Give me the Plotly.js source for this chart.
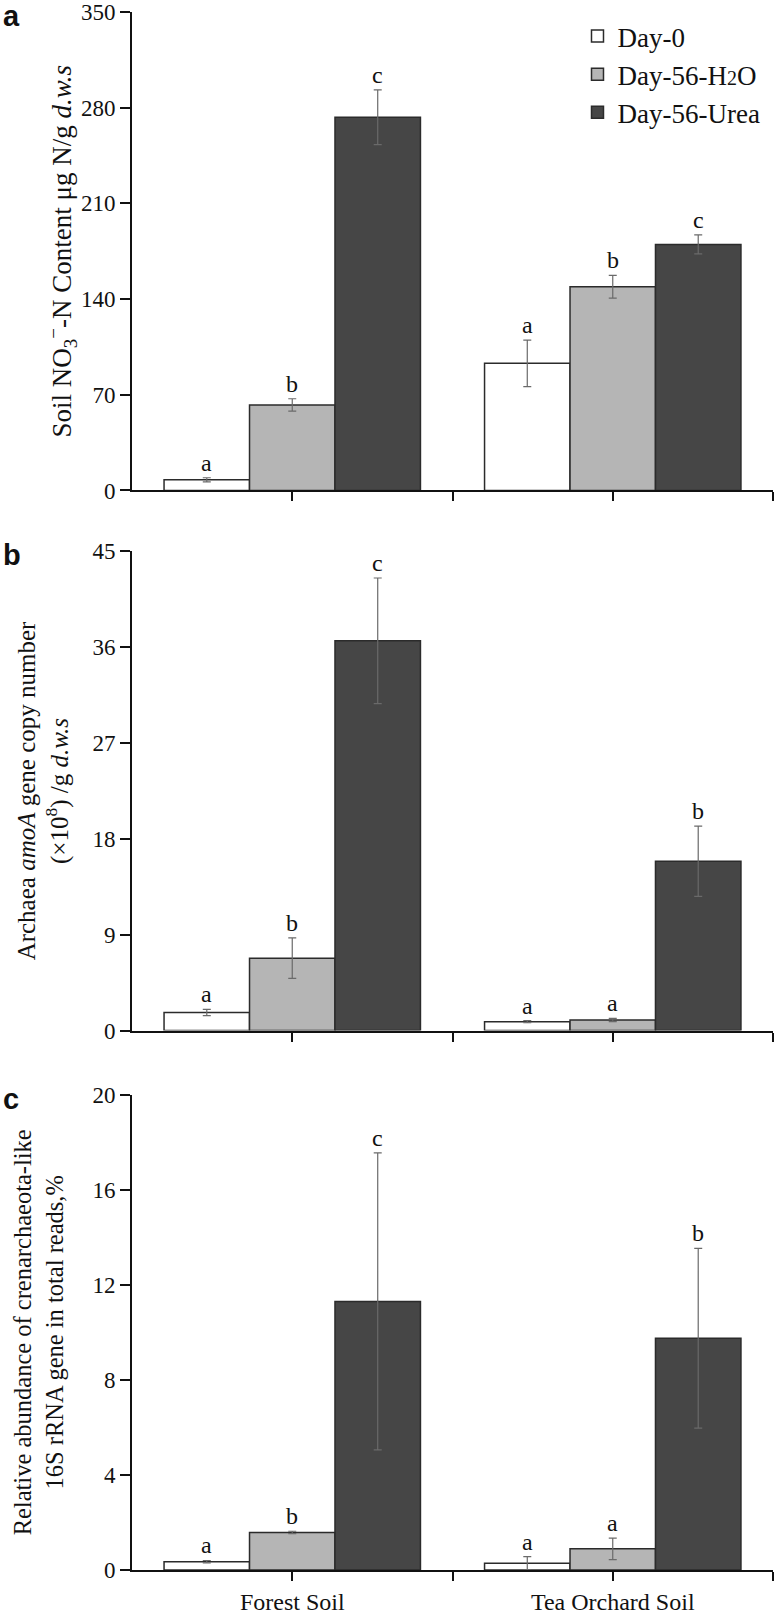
<!DOCTYPE html>
<html>
<head>
<meta charset="utf-8">
<script src="https://cdn.plot.ly/plotly-3.0.1.min.js"></script>
<style>html,body{margin:0;padding:0;background:#fff;}#chart{width:781px;height:1616px;}</style>
</head>
<body>
<div id="chart"></div>
<script>
// ---- data ----
const categories = ['Forest Soil', 'Tea Orchard Soil'];
const seriesNames = ['Day-0', 'Day-56-H<span style="font-size:20px">2</span>O', 'Day-56-Urea'];

// Panel a: Soil NO3- -N content (ug N / g d.w.s)
const no3Day0 = [7.8, 93];
const no3Day0Err = [1.5, 17];
const no3H2O = [62.6, 149];
const no3H2OErr = [4.5, 8.3];
const no3Urea = [273, 180];
const no3UreaErr = [20, 7];
const no3Letters = [['a', 'a'], ['b', 'b'], ['c', 'c']];

// Panel b: Archaea amoA gene copy number (x10^8 / g d.w.s)
const amoaDay0 = [1.7, 0.84];
const amoaDay0Err = [0.3, 0.1];
const amoaH2O = [6.8, 1.0];
const amoaH2OErr = [1.9, 0.15];
const amoaUrea = [36.6, 15.9];
const amoaUreaErr = [5.9, 3.3];
const amoaLetters = [['a', 'a'], ['b', 'a'], ['c', 'b']];

// Panel c: Relative abundance of crenarchaeota-like 16S rRNA gene (%)
const crenDay0 = [0.35, 0.28];
const crenDay0Err = [0.05, 0.28];
const crenH2O = [1.58, 0.89];
const crenH2OErr = [0.05, 0.45];
const crenUrea = [11.3, 9.75];
const crenUreaErr = [6.25, 3.78];
const crenLetters = [['a', 'a'], ['b', 'a'], ['c', 'b']];

// y-axis ticks
const no3Ticks = [0, 70, 140, 210, 280, 350];
const amoaTicks = [0, 9, 18, 27, 36, 45];
const crenTicks = [0, 4, 8, 12, 16, 20];
// x-axis separator ticks (between / after groups)
const xMinorTicks = [0.5, 1.5];

// ---- styling ----
const fillColors = ['#ffffff', '#b5b5b5', '#464646'];
const serif = 'Liberation Serif, Times New Roman, serif';
const BARGAP = 0.2;
const xIdx = categories.map((c, i) => i);

const panels = [
  {vals: [no3Day0, no3H2O, no3Urea], errs: [no3Day0Err, no3H2OErr, no3UreaErr], letters: no3Letters, xa: 'x', ya: 'y'},
  {vals: [amoaDay0, amoaH2O, amoaUrea], errs: [amoaDay0Err, amoaH2OErr, amoaUreaErr], letters: amoaLetters, xa: 'x2', ya: 'y2'},
  {vals: [crenDay0, crenH2O, crenUrea], errs: [crenDay0Err, crenH2OErr, crenUreaErr], letters: crenLetters, xa: 'x3', ya: 'y3'}
];

const traces = [];
const annotations = [];
panels.forEach((p, pi) => {
  p.vals.forEach((vals, si) => {
    traces.push({
      type: 'bar',
      x: xIdx,
      y: vals,
      name: seriesNames[si],
      showlegend: pi === 0,
      xaxis: p.xa,
      yaxis: p.ya,
      marker: {color: fillColors[si], line: {color: '#2b2b2b', width: 1.5}},
      error_y: {type: 'data', array: p.errs[si], visible: true, color: '#6a6a6a', thickness: 1.2, width: 4},
      hoverinfo: 'y'
    });
    const w = (1 - BARGAP) / p.vals.length;
    vals.forEach((v, ci) => {
      annotations.push({
        xref: p.xa, yref: p.ya,
        x: xIdx[ci] + (si - (p.vals.length - 1) / 2) * w,
        y: v + p.errs[si][ci],
        text: p.letters[si][ci],
        showarrow: false,
        yanchor: 'bottom',
        yshift: 0,
        font: {family: serif, size: 24, color: '#111'}
      });
    });
  });
});

// panel letters
[['a', 1.0], ['b', 0.6538], ['c', 0.3051]].forEach(([t, y]) => {
  annotations.push({
    xref: 'paper', yref: 'paper', x: -0.205, y: y, xanchor: 'left', yanchor: 'middle',
    yshift: -4,
    text: '<b>' + t + '</b>', showarrow: false,
    font: {family: 'Liberation Sans, Arial, sans-serif', size: 29, color: '#111'}
  });
});

const xBase = {
  range: [-0.5, 1.5],
  tickmode: 'array',
  tickvals: xIdx,
  ticktext: categories,
  ticks: 'outside', ticklen: 9, tickwidth: 2, tickcolor: '#111',
  minor: {tickmode: 'array', tickvals: xMinorTicks, ticks: 'outside', ticklen: 9, tickwidth: 2, tickcolor: '#111', showgrid: false},
  showline: true, linecolor: '#111', linewidth: 2,
  showgrid: false, zeroline: false,
  tickfont: {family: serif, size: 24, color: '#111'},
  fixedrange: true
};
function yBase(ticks, domain, titleSize) {
  return {
    domain: domain,
    range: [ticks[0], ticks[ticks.length - 1]],
    tickmode: 'array', tickvals: ticks,
    ticks: 'outside', ticklen: 10, tickwidth: 2, tickcolor: '#111',
    ticklabeloverflow: 'allow',
    showline: true, linecolor: '#111', linewidth: 2,
    showgrid: false, zeroline: false,
    tickfont: {family: serif, size: 23, color: '#111'},
    title: {font: {family: serif, size: titleSize, color: '#111'}},
    fixedrange: true
  };
}

const layout = {
  width: 781, height: 1616,
  margin: {l: 132, r: 8, t: 12, b: 46},
  paper_bgcolor: '#fff', plot_bgcolor: '#fff',
  barmode: 'group', bargap: BARGAP, bargroupgap: 0,
  showlegend: true,
  legend: {
    x: 0.695, xanchor: 'left',
    y: 1.0, yanchor: 'top',
    font: {family: serif, size: 27, color: '#111'},
    bgcolor: 'rgba(0,0,0,0)', tracegroupgap: 0
  },
  xaxis: Object.assign({}, xBase, {anchor: 'y', showticklabels: false}),
  xaxis2: Object.assign({}, xBase, {anchor: 'y2', showticklabels: false}),
  xaxis3: Object.assign({}, xBase, {anchor: 'y3', showticklabels: true}),
  yaxis: yBase(no3Ticks, [0.6929, 1.0], 27),
  yaxis2: yBase(amoaTicks, [0.3462, 0.6538], 25),
  yaxis3: yBase(crenTicks, [0.0, 0.3051], 24.5),
  annotations: annotations
};
layout.yaxis.anchor = 'x';
layout.yaxis2.anchor = 'x2';
layout.yaxis3.anchor = 'x3';
layout.yaxis.title.text = 'Soil NO<sub>3</sub><sup>\u2212</sup>-N Content \u03bcg N/g <i>d.w.s</i>';
layout.yaxis.title.standoff = 0;
layout.yaxis2.title.text = 'Archaea <i>amoA</i> gene copy number<br>(\u00d710<sup>8</sup>) /g <i>d.w.s</i>';
layout.yaxis2.title.standoff = 17;
layout.yaxis3.title.text = 'Relative abundance of crenarchaeota-like<br>16S rRNA gene in total reads,%';
layout.yaxis3.title.standoff = 22;

Plotly.newPlot('chart', traces, layout, {displayModeBar: false, staticPlot: true});
</script>
</body>
</html>
